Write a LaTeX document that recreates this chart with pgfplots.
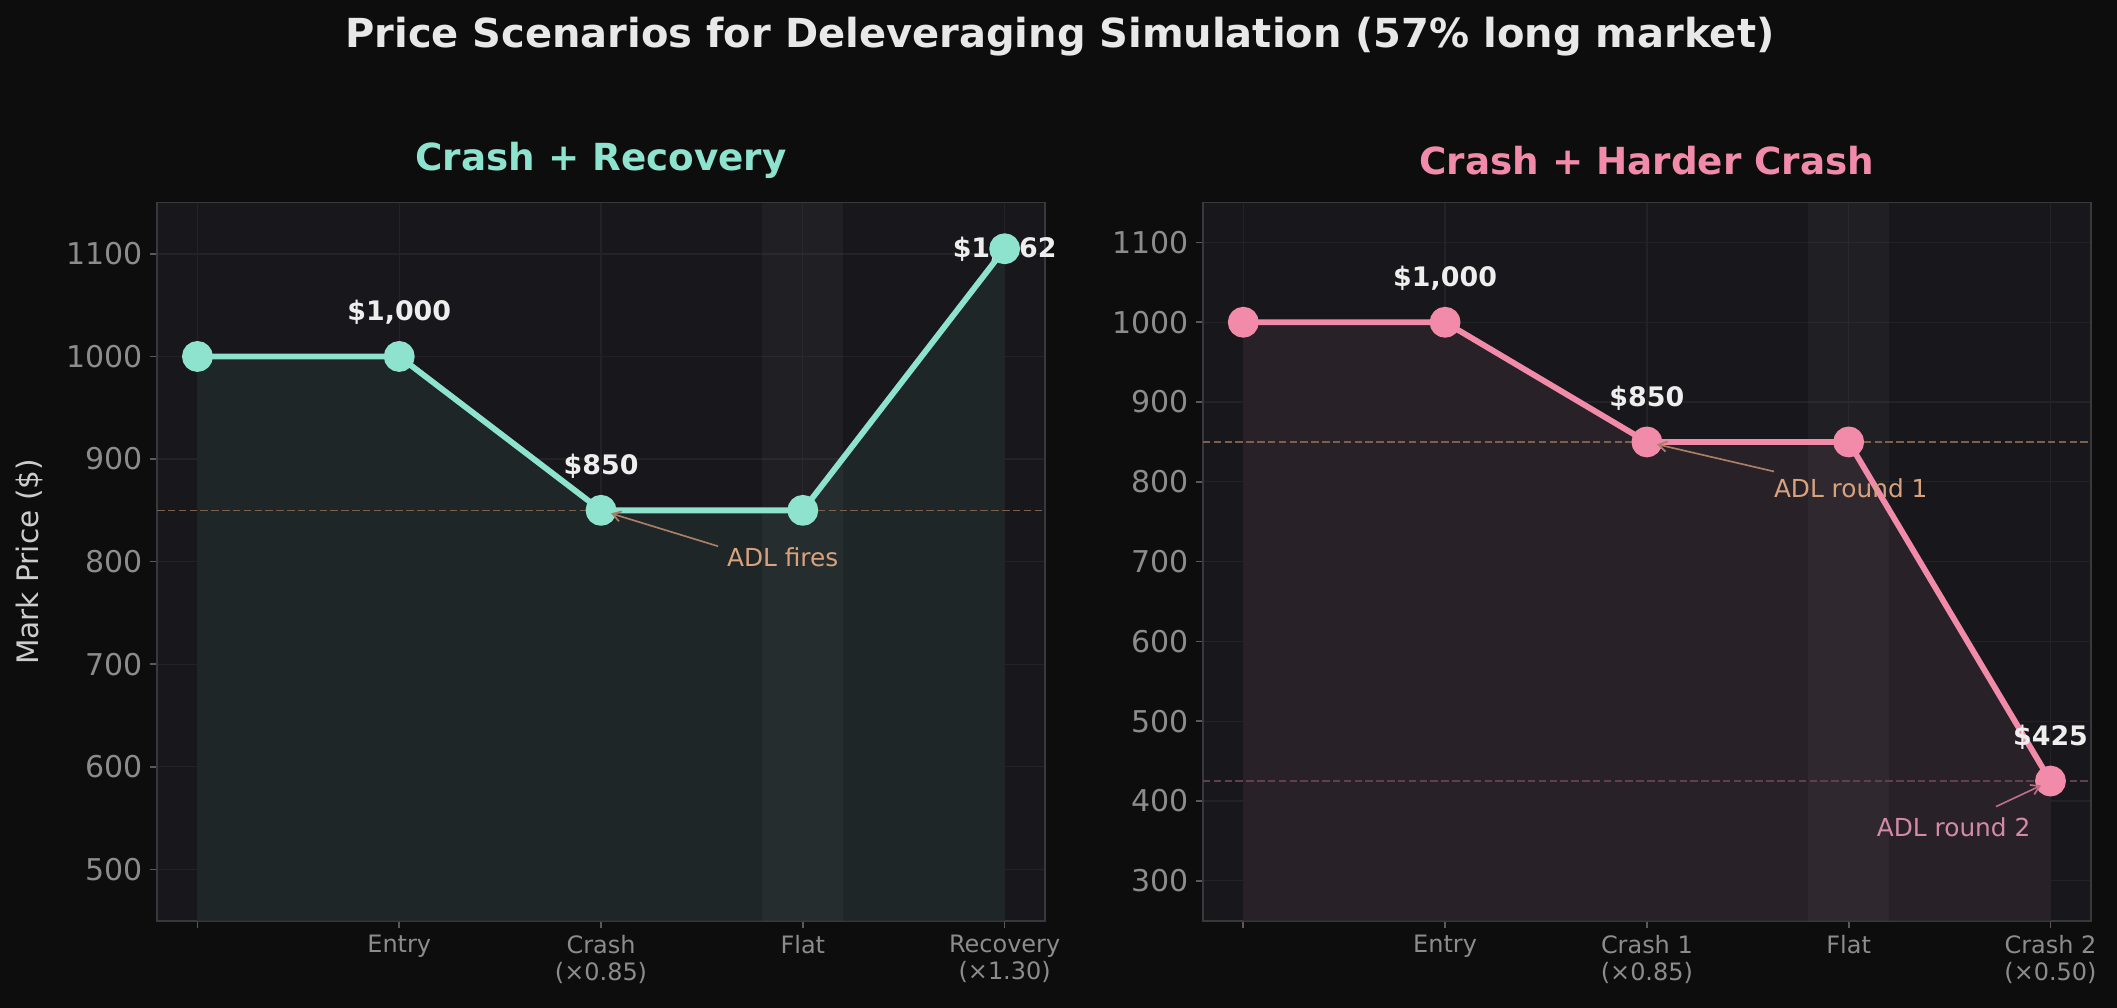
\documentclass[border=0pt]{standalone}
\usepackage{pgfplots}
\pgfplotsset{compat=1.18}
\usepackage{fontspec}
\setmainfont{DejaVu Sans}
\usetikzlibrary{arrows.meta}

\definecolor{figbg}{HTML}{0D0D0D}
\definecolor{axbg}{HTML}{18181C}
\definecolor{mint}{HTML}{8EE3CF}
\definecolor{rose}{HTML}{F28BAA}
\definecolor{tanc}{HTML}{D9A27E}
\definecolor{spine}{HTML}{38383D}
\definecolor{tickc}{HTML}{8C8C8C}
\definecolor{gridc}{HTML}{232327}
\definecolor{labelc}{HTML}{EEEEEE}
\definecolor{mintfill}{HTML}{1F2628}
\definecolor{rosefill}{HTML}{282128}
\definecolor{rosetext}{HTML}{D48AA5}
\colorlet{dashtan}{tanc!52!axbg}
\colorlet{dashrose}{rose!34!axbg}

\pgfplotsset{
  panel/.style={
    scale only axis, width=426.2pt, height=344.7pt,
    anchor=south west,
    xmin=-0.2, xmax=4.2, xtick={0,1,2,3,4},
    axis background/.style={fill=axbg},
    axis line style={spine, line width=0.8pt},
    grid=major, major grid style={gridc, line width=0.6pt},
    tick style={spine!60!tickc, line width=0.8pt},
    tick align=outside, major tick length=3.4pt, tick pos=left,
    clip mode=individual,
    /pgf/number format/assume math mode=true,
    /pgf/number format/1000 sep={},
    x tick label style={font=\fontsize{11.5}{12.8}\selectfont, text=tickc, align=center, anchor=north},
    y tick label style={font=\fontsize{14.4}{16}\selectfont, text=tickc},
  },
}
\tikzset{
  vlabel/.style={font=\bfseries\fontsize{12.9}{15}\selectfont, text=labelc, yshift=21pt},
  ann/.style={font=\fontsize{11.9}{14}\selectfont},
  annarrow/.style={line width=0.8pt, -{Straight Barb[length=4pt,width=5pt]}, shorten >=5pt},
  dashline/.style={line width=0.75pt, dash pattern=on 3.6pt off 1.6pt},
}

\begin{document}
\begin{tikzpicture}
\useasboundingbox (0,0) rectangle (1016.16pt,483.84pt);
\fill[figbg] (0,0) rectangle (1016.16pt,483.84pt);

% Scenario A: crash, then recovery
\begin{axis}[panel, at={(75.4pt,41.9pt)},
  ymin=450, ymax=1150, ytick={500,600,...,1100},
  xticklabels={{},Entry,{Crash\\(×0.85)},Flat,{Recovery\\(×1.30)}}]
  \addplot[draw=none, fill=mintfill] coordinates {(0,1000) (1,1000) (2,850) (3,850) (4,1105)} \closedcycle;
  \fill[white, opacity=0.035] (axis cs:2.8,450) rectangle (axis cs:3.2,1150);
  \addplot[dashline, dashtan] coordinates {(-0.2,850) (4.2,850)};
  \node[vlabel] at (axis cs:4,1062) {\$1,062};
  \addplot[mint, line width=2.8pt, line join=round, mark=*, mark size=6pt,
    mark options={fill=mint, draw=none}]
    coordinates {(0,1000) (1,1000) (2,850) (3,850) (4,1105)};
  \node[vlabel] at (axis cs:1,1000) {\$1,000};
  \node[vlabel] at (axis cs:2,850) {\$850};
  \node[ann, text=tanc] at (axis cs:2.90,804) {ADL fires};
  \draw[annarrow, tanc!75!axbg] (axis cs:2.58,815) -- (axis cs:2,850);
\end{axis}

% Scenario B: crash, then a harder crash
\begin{axis}[panel, at={(577.4pt,41.9pt)},
  ymin=250, ymax=1150, ytick={300,400,...,1100},
  xticklabels={{},Entry,{Crash 1\\(×0.85)},Flat,{Crash 2\\(×0.50)}}]
  \addplot[draw=none, fill=rosefill] coordinates {(0,1000) (1,1000) (2,850) (3,850) (4,425)} \closedcycle;
  \fill[white, opacity=0.035] (axis cs:2.8,250) rectangle (axis cs:3.2,1150);
  \addplot[dashline, dashtan] coordinates {(-0.2,850) (4.2,850)};
  \addplot[dashline, dashrose] coordinates {(-0.2,425) (4.2,425)};
  \addplot[rose, line width=2.8pt, line join=round, mark=*, mark size=6pt,
    mark options={fill=rose, draw=none}]
    coordinates {(0,1000) (1,1000) (2,850) (3,850) (4,425)};
  \node[vlabel] at (axis cs:1,1000) {\$1,000};
  \node[vlabel] at (axis cs:2,850) {\$850};
  \node[vlabel] at (axis cs:4,425) {\$425};
  \node[ann, text=tanc] at (axis cs:3.01,792) {ADL round 1};
  \draw[annarrow, tanc!75!axbg] (axis cs:2.63,813) -- (axis cs:2,850);
  \node[ann, text=rosetext] at (axis cs:3.52,367) {ADL round 2};
  \draw[annarrow, rose!75!axbg] (axis cs:3.73,393) -- (axis cs:4,425);
\end{axis}

\node[rotate=90, font=\fontsize{14.2}{17}\selectfont, text=white!80!black] at (14.3pt,214.1pt) {Mark Price (\$)};
\node[font=\bfseries\fontsize{17.9}{21}\selectfont, text=mint] at (288.5pt,406.7pt) {Crash + Recovery};
\node[font=\bfseries\fontsize{17.9}{21}\selectfont, text=rose] at (790.5pt,406.7pt) {Crash + Harder Crash};
\node[font=\bfseries\fontsize{19.2}{22}\selectfont, text=white!91!black] at (508.7pt,466.3pt) {Price Scenarios for Deleveraging Simulation (57\% long market)};
\end{tikzpicture}
\end{document}
